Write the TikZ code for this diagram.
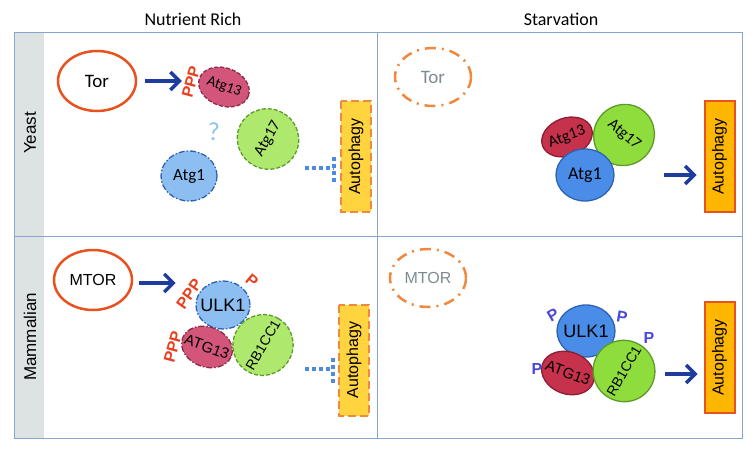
\documentclass[tikz,border=0pt]{standalone}
\usepackage{fontspec}
\setmainfont{Carlito}
\newfontfamily\arial{Liberation Sans}
\usetikzlibrary{positioning,shapes.geometric,arrows.meta}

\definecolor{framecol}{HTML}{86A6D0}
\definecolor{sidegray}{HTML}{DDE3E3}
\definecolor{torred}{HTML}{E8521E}
\definecolor{torfade}{HTML}{F0883E}
\definecolor{arrblue}{HTML}{1E3C9E}
\definecolor{dotblue}{HTML}{4C8CE0}
\definecolor{pinkfill}{HTML}{D3567A}
\definecolor{pinkline}{HTML}{8A2A48}
\definecolor{redfill}{HTML}{C6314C}
\definecolor{redline}{HTML}{8C1E34}
\definecolor{lgreen}{HTML}{AEE86C}
\definecolor{dgreen}{HTML}{8EDD3C}
\definecolor{greenline}{HTML}{5E9A2A}
\definecolor{lblue}{HTML}{8DBEF2}
\definecolor{dblue}{HTML}{4A8DE8}
\definecolor{blueline}{HTML}{2E62B0}
\definecolor{yellowbox}{HTML}{FFD43E}
\definecolor{orangebox}{HTML}{FFB600}
\definecolor{phred}{HTML}{E8401E}
\definecolor{phblue}{HTML}{4A48DA}
\definecolor{qblue}{HTML}{8CC4F0}
\definecolor{fadetext}{HTML}{7D8A8E}

\newcommand{\fsz}[1]{\fontsize{#1}{#1}\selectfont}

\begin{document}
\begin{tikzpicture}[x=1pt,y=-1pt,
    prot/.style={ellipse, draw, line width=1.3pt, inner xsep=-6pt, inner ysep=0pt},
    tornode/.style={ellipse, draw=torred, line width=2.5pt, minimum width=78pt, minimum height=60pt, inner sep=0pt},
    torgone/.style={ellipse, draw=torfade, line width=2.5pt, dash pattern=on 11pt off 6pt on 2pt off 6pt, minimum width=76pt, minimum height=58pt, inner sep=0pt, text=fadetext},
    autobox/.style={rectangle, rotate=90, minimum width=111pt, minimum height=30pt, inner sep=0pt, font=\arial\fsz{16}},
    actarrow/.style={draw=arrblue, line width=3.5pt, -{Straight Barb[length=9pt,width=18pt]}},
    blockline/.style={draw=dotblue, line width=4pt, dash pattern=on 4pt off 3pt},
    phos/.style={font=\arial\bfseries\fsz{16}, inner sep=0pt},
    dashd/.style={dash pattern=on 4pt off 2pt},
    dashdt/.style={dash pattern=on 6pt off 2pt on 1.5pt off 2pt}]

\useasboundingbox (0,0) rectangle (755,452);

% frame
\fill[sidegray] (14,32) rectangle (44,438);
\draw[framecol, line width=0.8pt] (14,32) rectangle (742,438);
\draw[framecol, line width=0.8pt] (14,236) -- (742,236);
\draw[framecol, line width=0.8pt] (377,32) -- (377,438);

\node[font=\fsz{18}] (head_rich) at (193,19) {Nutrient Rich};
\node[font=\fsz{18}] (head_starv) at (561,19) {Starvation};
\node[rotate=90, font=\arial\fsz{17}] (row_yeast) at (30,133) {Yeast};
\node[rotate=90, font=\arial\fsz{17}] (row_mamm) at (30,337) {Mammalian};

% yeast, nutrient rich
\node[tornode, font=\fsz{19}] (ynr_tor) at (97,81) {Tor};
\node[prot, fill=pinkfill, draw=pinkline, dashd, minimum width=52pt, minimum height=38pt, rotate=-20, font=\fsz{15}] (ynr_atg13) at (224,87) {Atg13};
\node[phos, text=phred, rotate=75] (ynr_p) at (191,82) {PPP};
\node[font=\fsz{26}, text=qblue] (ynr_q) at (214,132) {?};
\node[prot, fill=lgreen, draw=greenline, dashd, minimum width=60pt, minimum height=62pt, rotate=60, font=\fsz{16}] (ynr_atg17) at (268,139) {Atg17};
\node[prot, fill=lblue, draw=blueline, dashdt, minimum width=56pt, minimum height=50pt, font=\fsz{17}] (ynr_atg1) at (189,176) {Atg1};
\node[autobox, fill=yellowbox, draw=torfade, line width=2pt, dash pattern=on 8pt off 4pt] (ynr_auto) at (356,156.5) {Autophagy};

\draw[actarrow, shorten <=8pt, shorten >=5pt] (ynr_tor.east) -- (ynr_tor.east -| ynr_p.west);
\coordinate (ynr_dot) at (305,168);
\coordinate (ynr_bar) at (334,157);
\draw[blockline] (ynr_dot) -- (ynr_dot -| ynr_bar);
\draw[blockline] (ynr_bar) -- ++(0,25);

% yeast, starvation
\node[torgone, font=\fsz{19}] (ys_tor) at (433,77) {Tor};
\node[prot, fill=redfill, draw=redline, minimum width=52pt, minimum height=38pt, rotate=20, font=\fsz{16}] (ys_atg13) at (567,137) {Atg13};
\node[prot, fill=dgreen, draw=greenline, minimum width=60pt, minimum height=62pt, rotate=-40, font=\fsz{16}] (ys_atg17) at (624,135) {Atg17};
\node[prot, fill=dblue, draw=blueline, minimum width=58pt, minimum height=52pt, font=\fsz{18}] (ys_atg1) at (585,175) {Atg1};
\node[autobox, fill=orangebox, draw=torred, line width=2pt] (ys_auto) at (719.5,156.5) {Autophagy};

\draw[actarrow, shorten <=40pt, shorten >=7pt] (ys_atg17.center |- ys_atg1) -- (ys_atg1 -| ys_auto.north);

% mammalian, nutrient rich
\node[tornode, font=\arial\fsz{16}] (mnr_mtor) at (93,280) {MTOR};
\node[prot, fill=lblue, draw=blueline, dashdt, minimum width=54pt, minimum height=48pt, font=\arial\fsz{18}] (mnr_ulk1) at (223,305) {ULK1};
\node[prot, fill=pinkfill, draw=pinkline, dashdt, minimum width=52pt, minimum height=40pt, rotate=-20, font=\arial\fsz{15}] (mnr_atg13) at (207,347) {ATG13};
\node[prot, fill=lgreen, draw=greenline, dashd, minimum width=60pt, minimum height=60pt, rotate=60, font=\arial\fsz{14}] (mnr_rb1cc1) at (263,345) {RB1CC1};
\node[phos, text=phred, rotate=55] (mnr_p1) at (189,294) {PPP};
\node[phos, text=phred, rotate=-40] (mnr_p2) at (252,281) {P};
\node[phos, text=phred, rotate=75] (mnr_p3) at (173,347) {PPP};
\node[autobox, fill=yellowbox, draw=torfade, line width=2pt, dash pattern=on 8pt off 4pt] (mnr_auto) at (354,360) {Autophagy};

\draw[actarrow, shorten <=6pt, shorten >=4pt] (mnr_mtor.east) ++(0,3) coordinate (mnr_from) -- (mnr_from -| mnr_p1.west);
\coordinate (mnr_dot) at (305,369);
\coordinate (mnr_bar) at (333,358);
\draw[blockline] (mnr_dot) -- (mnr_dot -| mnr_bar);
\draw[blockline] (mnr_bar) -- ++(0,25);

% mammalian, starvation
\node[torgone, font=\arial\fsz{16}] (ms_mtor) at (428,278) {MTOR};
\node[prot, fill=dblue, draw=blueline, minimum width=58pt, minimum height=52pt, font=\arial\fsz{18}] (ms_ulk1) at (586,331) {ULK1};
\node[prot, fill=redfill, draw=redline, minimum width=54pt, minimum height=42pt, rotate=-20, font=\arial\fsz{15}] (ms_atg13) at (568,373) {ATG13};
\node[prot, fill=dgreen, draw=greenline, minimum width=60pt, minimum height=62pt, rotate=60, font=\arial\fsz{14}] (ms_rb1cc1) at (624,371) {RB1CC1};
\node[phos, text=phblue, rotate=30] (ms_p1) at (553,315) {P};
\node[phos, text=phblue, rotate=-10] (ms_p2) at (622,317) {P};
\node[phos, text=phblue] (ms_p3) at (649,338) {P};
\node[phos, text=phblue] (ms_p4) at (537,369) {P};
\node[autobox, fill=orangebox, draw=torred, line width=2pt] (ms_auto) at (719.5,357.5) {Autophagy};

\draw[actarrow, shorten <=41pt, shorten >=6pt] (ms_rb1cc1.center) ++(0,3) coordinate (ms_from) -- (ms_from -| ms_auto.north);

\end{tikzpicture}
\end{document}
